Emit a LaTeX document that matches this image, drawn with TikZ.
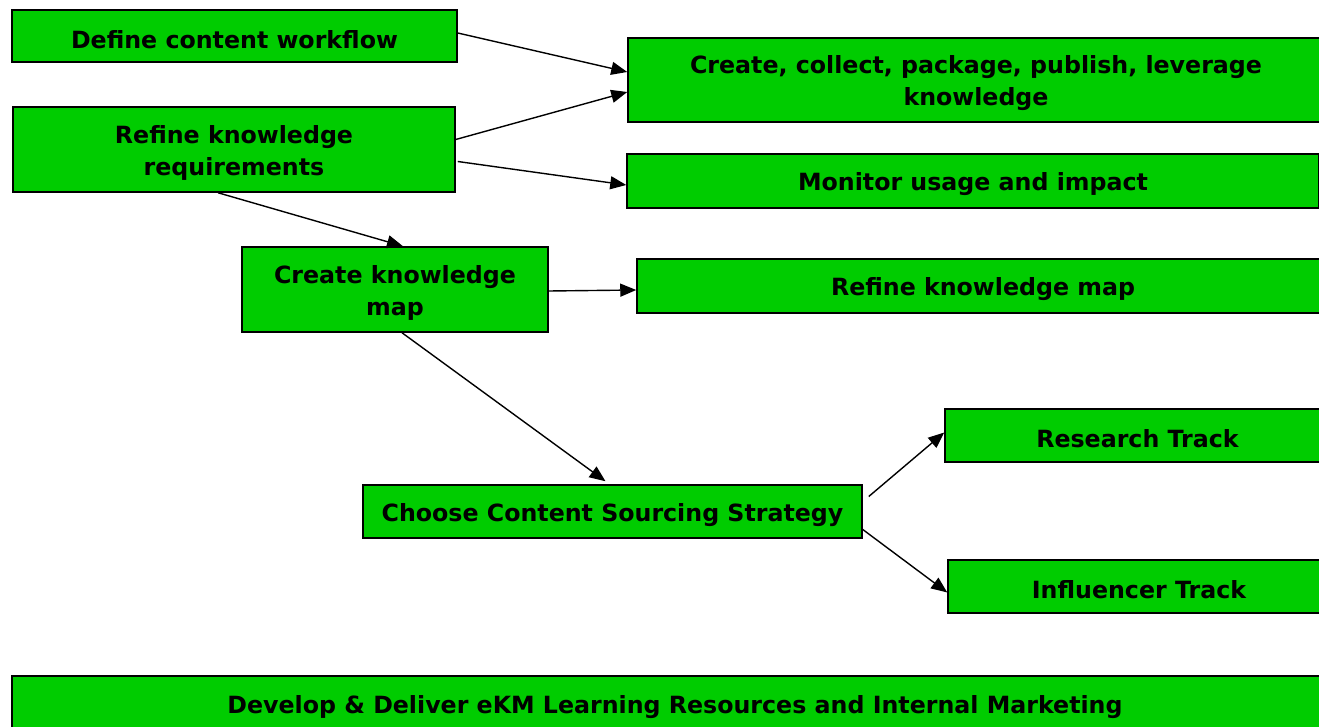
\documentclass[tikz,border=0pt]{standalone}
\usepackage{fontspec}
\setmainfont{DejaVu Sans}
\usetikzlibrary{arrows.meta,calc}
\definecolor{boxgreen}{HTML}{00CC00}
\newcommand\tup{\rule{0pt}{24.5pt}}
\begin{document}
\begin{tikzpicture}[x=1pt,y=-1pt,
  box/.style={draw=black,line width=1.5pt,fill=boxgreen,inner sep=0pt,align=center,
    font=\fontsize{23.7}{32}\selectfont\bfseries},
  arr/.style={line width=1.4pt,-{Triangle[length=16pt,width=13pt]}}]
\useasboundingbox (0,0) rectangle (1319,727);
\clip (0,0) rectangle (1319,727);
\node[box,minimum width=445pt,minimum height=52pt] (A) at (234.5,36) {\tup Define content workflow};
\node[box,minimum width=696pt,minimum height=84pt] (B) at (976,80) {\tup Create, collect, package, publish, leverage\\knowledge};
\node[box,minimum width=442pt,minimum height=85pt] (C) at (234,149.5) {\tup Refine knowledge\\requirements};
\node[box,minimum width=692pt,minimum height=54pt] (D) at (973,181) {\tup Monitor usage and impact};
\node[box,minimum width=306pt,minimum height=85pt] (E) at (395,289.5) {\tup Create knowledge\\map};
\node[box,minimum width=692pt,minimum height=54pt] (F) at (983,286) {\tup Refine knowledge map};
\node[box,minimum width=499pt,minimum height=53pt] (G) at (612.5,511.5) {\tup Choose Content Sourcing Strategy};
\node[box,minimum width=385pt,minimum height=53pt] (H) at (1137.5,435.5) {\tup Research Track};
\node[box,minimum width=382pt,minimum height=53pt] (I) at (1139,586.5) {\tup Influencer Track};
\node[box,minimum width=1326pt,minimum height=56pt] (J) at (675,704) {\tup Develop \& Deliver eKM Learning Resources and Internal Marketing};
\draw[arr] ($(A.east)+(0,-3)$) -- ($(B.west)+(0,-8)$);
\draw[arr] ($(C.east)+(0,-10)$) -- ($(B.west)+(0,12)$);
\draw[arr] ($(C.east)+(2,12)$) -- ($(D.west)+(0,4)$);
\draw[arr] ($(C.south)+(-16,0)$) -- ($(E.north)+(8,0)$);
\draw[arr] ($(E.east)+(0,1.5)$) -- ($(F.west)+(0,4)$);
\draw[arr] ($(E.south)+(7,0)$) -- ($(G.north)+(-7,-3)$);
\draw[arr] ($(G.east)+(6,-15)$) -- ($(H.west)+(0,-3)$);
\draw[arr] ($(G.east)+(0,18)$) -- ($(I.west)+(0,6)$);
\end{tikzpicture}
\end{document}
